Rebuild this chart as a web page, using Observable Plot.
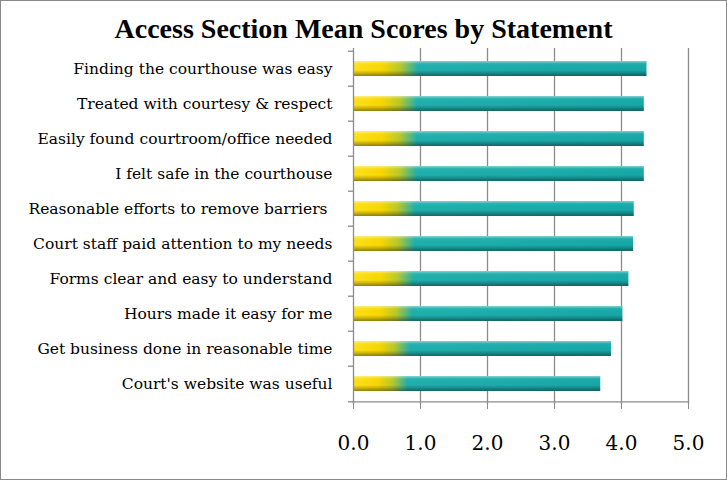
<!DOCTYPE html>
<html>
<head>
<meta charset="utf-8">
<script src="https://cdn.jsdelivr.net/npm/d3@7"></script>
<script src="https://cdn.jsdelivr.net/npm/@observablehq/plot@0.6"></script>
<style>
  html, body { margin: 0; padding: 0; background: #fff; }
  #frame { width: 727px; height: 480px; box-sizing: border-box; border: 1px solid #8a8a8a; background: #fff; position: relative; overflow: hidden; }
  #title { height: 43px; line-height: 56px; text-align: center; font-family: "Liberation Serif", serif; font-weight: bold; font-size: 28px; color: #000; }
</style>
</head>
<body>
<div id="frame">
  <div id="title">Access Section Mean Scores by Statement</div>
  <div id="chart"></div>
</div>
<script>
const statements = [
  "Finding the courthouse was easy",
  "Treated with courtesy & respect",
  "Easily found courtroom/office needed",
  "I felt safe in the courthouse",
  "Reasonable efforts to remove barriers ",
  "Court staff paid attention to my needs",
  "Forms clear and easy to understand",
  "Hours made it easy for me",
  "Get business done in reasonable time",
  "Court's website was useful"
];
const meanScores = [4.38, 4.34, 4.34, 4.34, 4.19, 4.18, 4.11, 4.02, 3.85, 3.69];
const xTicks = [0, 1, 2, 3, 4, 5];

const data = statements.map((s, i) => ({statement: s, score: meanScores[i]}));

const W = 725, H = 434;
const mTop = 4, mBottom = 74, mLeft = 352, mRight = 38;
const step = (H - mTop - mBottom) / statements.length;
const inset = (step - 15.5) / 2;
const last = statements[statements.length - 1];

const plot = Plot.plot({
  width: W,
  height: H,
  marginTop: mTop,
  marginBottom: mBottom,
  marginLeft: mLeft,
  marginRight: mRight,
  style: {fontFamily: "'DejaVu Serif', serif", background: "#fff", color: "#000"},
  x: {domain: [0, 5]},
  y: {domain: statements, padding: 0},
  marks: [
    Plot.gridX(xTicks.slice(1), {stroke: "#8c8c8c", strokeOpacity: 1, strokeWidth: 1.3}),
    Plot.barX(data, {y: "statement", x: "score", fill: "url(#barGrad)", insetTop: inset, insetBottom: inset}),
    Plot.barX(data, {y: "statement", x: "score", fill: "url(#barShade)", insetTop: inset, insetBottom: inset}),
    Plot.ruleX([0], {stroke: "#8c8c8c", strokeWidth: 1.3}),
    Plot.ruleY([last], {y: d => d, dy: step / 2, x1: 0, x2: 5, stroke: "#8c8c8c", strokeWidth: 1.3}),
    Plot.ruleY(statements, {y: d => d, dy: -step / 2, x1: -0.075, x2: 0, stroke: "#8c8c8c", strokeWidth: 1.3}),
    Plot.ruleY([last], {y: d => d, dy: step / 2, x1: -0.075, x2: 0, stroke: "#8c8c8c", strokeWidth: 1.3}),
    Plot.axisX({ticks: xTicks, tickFormat: d3.format(".1f"), tickSize: 5, tickPadding: 26, stroke: "#8c8c8c", fontSize: 20, fill: "#000", label: null}),
    Plot.axisY({tickSize: 0, tickPadding: 21, fontSize: 15.5, fill: "#000", label: null})
  ]
});

// gradient definitions for the bar fills
const svg = d3.select(plot);
const defs = svg.insert("defs", ":first-child");
const g1 = defs.append("linearGradient").attr("id", "barGrad")
  .attr("x1", 0).attr("x2", 1).attr("y1", 0).attr("y2", 0);
[[0, "#ffe21a"], [0.1, "#f9d800"], [0.16, "#b9c92a"], [0.22, "#1fb0ad"], [1, "#16a8a8"]]
  .forEach(([o, c]) => g1.append("stop").attr("offset", o).attr("stop-color", c));
const g2 = defs.append("linearGradient").attr("id", "barShade")
  .attr("x1", 0).attr("x2", 0).attr("y1", 0).attr("y2", 1);
[[0, "#ffffff", 0.45], [0.18, "#ffffff", 0.05], [0.6, "#000000", 0], [0.85, "#000000", 0.25], [1, "#000000", 0.45]]
  .forEach(([o, c, a]) => g2.append("stop").attr("offset", o).attr("stop-color", c).attr("stop-opacity", a));

document.getElementById("chart").appendChild(plot);
</script>
</body>
</html>
